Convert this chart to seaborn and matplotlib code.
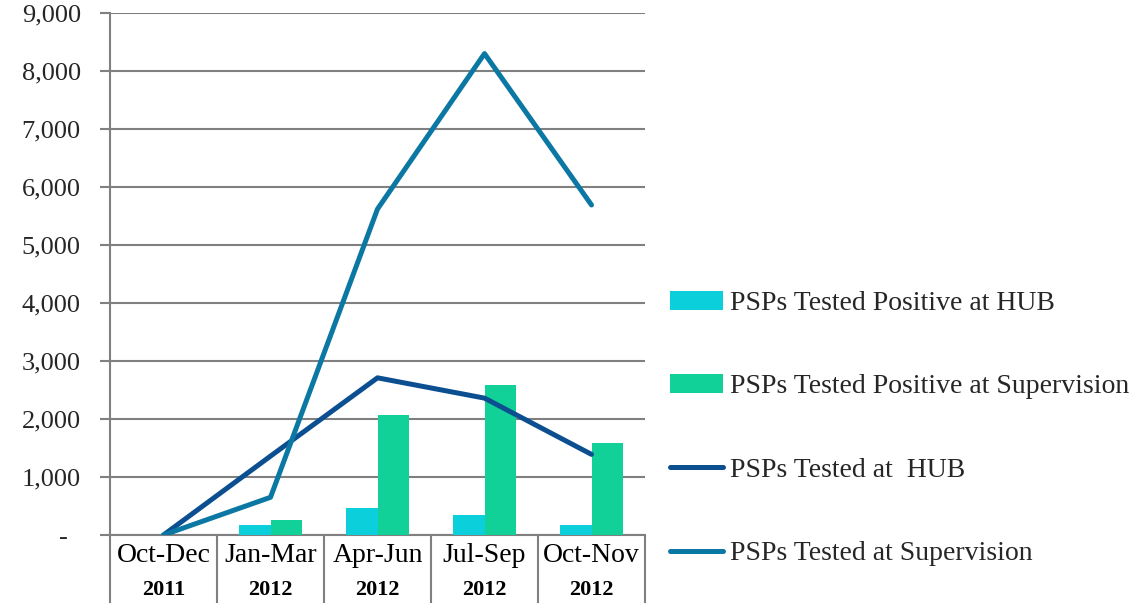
import numpy as np
import pandas as pd
import matplotlib
matplotlib.use("Agg")
import matplotlib.pyplot as plt
from matplotlib.lines import Line2D
from matplotlib.patches import Patch
import seaborn as sns

periods = ["Oct-Dec", "Jan-Mar", "Apr-Jun", "Jul-Sep", "Oct-Nov"]
years = ["2011", "2012", "2012", "2012", "2012"]
pos_hub = [0, 170, 460, 340, 165]
pos_sup = [0, 260, 2075, 2580, 1585]
tested_hub = [0, 1360, 2710, 2360, 1390]
tested_sup = [0, 650, 5620, 8300, 5690]
yticks = [0, 1000, 2000, 3000, 4000, 5000, 6000, 7000, 8000, 9000]
ytick_labels = ["-  ", "1,000", "2,000", "3,000", "4,000", "5,000", "6,000", "7,000", "8,000", "9,000"]

names = ["PSPs Tested Positive at HUB", "PSPs Tested Positive at Supervision",
         "PSPs Tested at  HUB", "PSPs Tested at Supervision"]
colors = ["#0BCFDB", "#12D198", "#0C4F90", "#0B78A4"]
grid_c = "#808080"

sns.set_theme(style="white")
plt.rcParams["font.family"] = ["Liberation Serif", "DejaVu Serif"]

fig = plt.figure(figsize=(11.47, 6.03), dpi=100)
ax = fig.add_axes([110 / 1147, 1 - 535 / 603, (645 - 110) / 1147, (535 - 13) / 603])

bars = pd.DataFrame({
    "period": periods * 2,
    "value": pos_hub + pos_sup,
    "series": [names[0]] * 5 + [names[1]] * 5,
})
sns.barplot(data=bars, x="period", y="value", hue="series", order=periods,
            hue_order=names[:2], palette=colors[:2], width=0.58, saturation=1,
            legend=False, ax=ax, linewidth=0, zorder=3)

lines = pd.DataFrame({
    "x": list(range(5)) * 2,
    "value": tested_hub + tested_sup,
    "series": [names[2]] * 5 + [names[3]] * 5,
})
sns.lineplot(data=lines, x="x", y="value", hue="series", hue_order=names[2:],
             palette=colors[2:], linewidth=3.6, legend=False, ax=ax, zorder=4,
             solid_capstyle="round", solid_joinstyle="round")

ax.set_xlim(-0.5, 4.5)
ax.set_ylim(0, 9000)
ax.set_yticks(yticks)
ax.set_yticklabels(ytick_labels, fontsize=19)
ax.set_xticks([])
ax.set_xlabel("")
ax.set_ylabel("")
ax.yaxis.grid(True, color=grid_c, linewidth=1.5, zorder=0)
ax.set_axisbelow(True)
ax.tick_params(axis="y", which="both", left=True, length=7, width=1.5,
               color=grid_c, pad=14)
for s in ["top", "right"]:
    ax.spines[s].set_visible(False)
for s in ["left", "bottom"]:
    ax.spines[s].set_color(grid_c)
    ax.spines[s].set_linewidth(1.5)

# category table under the axis
trans = ax.get_xaxis_transform()
for b in np.arange(-0.5, 5.0, 1.0):
    ax.add_line(Line2D([b, b], [0, -0.135], transform=trans, color=grid_c,
                       linewidth=1.5, clip_on=False))
for i, (p, yr) in enumerate(zip(periods, years)):
    ax.text(i, -0.04, p, transform=trans, ha="center", va="center",
            fontsize=20, color="black")
    ax.text(i, -0.105, yr, transform=trans, ha="center", va="center",
            fontsize=16, fontweight="bold", color="black")

handles = [
    Patch(facecolor=colors[0], edgecolor="none"),
    Patch(facecolor=colors[1], edgecolor="none"),
    Line2D([0], [0], color=colors[2], linewidth=3.6, solid_capstyle="round"),
    Line2D([0], [0], color=colors[3], linewidth=3.6, solid_capstyle="round"),
]
fig.legend(handles, names, loc="upper left", bbox_to_anchor=(670 / 1147, 1 - 291 / 603),
           frameon=False, fontsize=20, handlelength=1.9, handleheight=0.65,
           handletextpad=0.25, labelspacing=2.1, borderpad=0, borderaxespad=0)

fig.savefig("out.png", dpi=100, facecolor="white")
